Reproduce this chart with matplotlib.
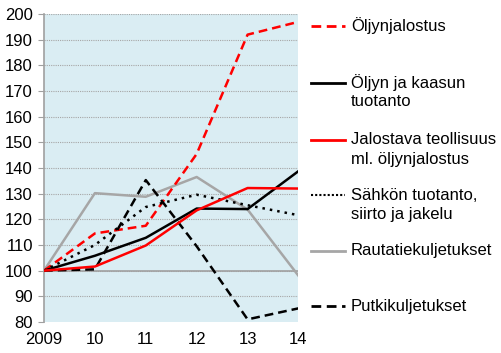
import matplotlib.pyplot as plt
from matplotlib.lines import Line2D

plt.rcParams['font.family'] = ['Liberation Sans', 'DejaVu Sans']

years = ['2009', '10', '11', '12', '13', '14']
oljynjalostus = [100, 114.5, 117.5, 145.5, 192, 197]
oljy_kaasu = [100, 105.8, 112.8, 124.2, 124, 138.8]
jalostava = [100, 101.6, 109.8, 123.5, 132.2, 132]
sahko = [100, 110, 124.8, 129.6, 125.5, 121.6]
rautatie = [100, 130.2, 128.8, 136.5, 123.8, 98]
putki = [100, 100.5, 135.3, 109.5, 81, 85.3]

labels = ['Öljynjalostus', 'Öljyn ja kaasun\ntuotanto',
          'Jalostava teollisuus\nml. öljynjalostus',
          'Sähkön tuotanto,\nsiirto ja jakelu',
          'Rautatiekuljetukset', 'Putkikuljetukset']

fig = plt.figure(figsize=(5.02, 3.53), dpi=100)
ax = fig.add_axes([0.0876, 0.088, 0.507, 0.872])
ax.set_facecolor('#daedf3')

x = range(len(years))
# grid lines
for v in range(90, 201, 10):
    ax.axhline(v, color='#a6a6a6', lw=0.8, ls=(0, (1, 1)), zorder=1)
ax.axhline(100, color='#a0a0a0', lw=1.2, zorder=1)

styles = [
    dict(color='#ff0000', ls=(0, (3.5, 2)), lw=1.8),
    dict(color='#000000', ls='-', lw=1.8),
    dict(color='#ff0000', ls='-', lw=1.8),
    dict(color='#000000', ls=(0, (1, 2)), lw=1.8),
    dict(color='#a6a6a6', ls='-', lw=1.8),
    dict(color='#000000', ls=(0, (3.5, 2)), lw=1.8),
]
series = [oljynjalostus, oljy_kaasu, jalostava, sahko, rautatie, putki]
order = [4, 0, 5, 3, 1, 2]
for i in order:
    ax.plot(x, series[i], zorder=3, **styles[i])

ax.set_xlim(0, 5)
ax.set_ylim(80, 200)
ax.set_yticks(range(80, 201, 10))
ax.set_xticks(list(x))
ax.set_xticklabels(years)
ax.tick_params(axis='both', labelsize=12, colors='#000000', length=0, pad=7)
ax.tick_params(axis='y', length=4, color='#a0a0a0', direction='out', pad=4)
for s in ['top', 'right', 'bottom']:
    ax.spines[s].set_visible(False)
ax.spines['left'].set_color('#a0a0a0')
ax.spines['left'].set_linewidth(1.2)

# legend on right: (first-line y in pixels)
first_y = [26, 83, 140, 195, 251, 306]
for i, yp in enumerate(first_y):
    st = styles[i]
    lw = 1.5 if i == 3 else 2.0
    ls = (0, (1, 1)) if i == 3 else st['ls']
    fig.add_artist(Line2D([311 / 502, 345 / 502], [1 - yp / 353] * 2,
                          color=st['color'], ls=ls, lw=lw))
    for k, line in enumerate(labels[i].split('\n')):
        fig.text(351 / 502, 1 - (yp + 19 * k) / 353, line, fontsize=12,
                 va='center', ha='left')

fig.savefig('out.png', dpi=100)
